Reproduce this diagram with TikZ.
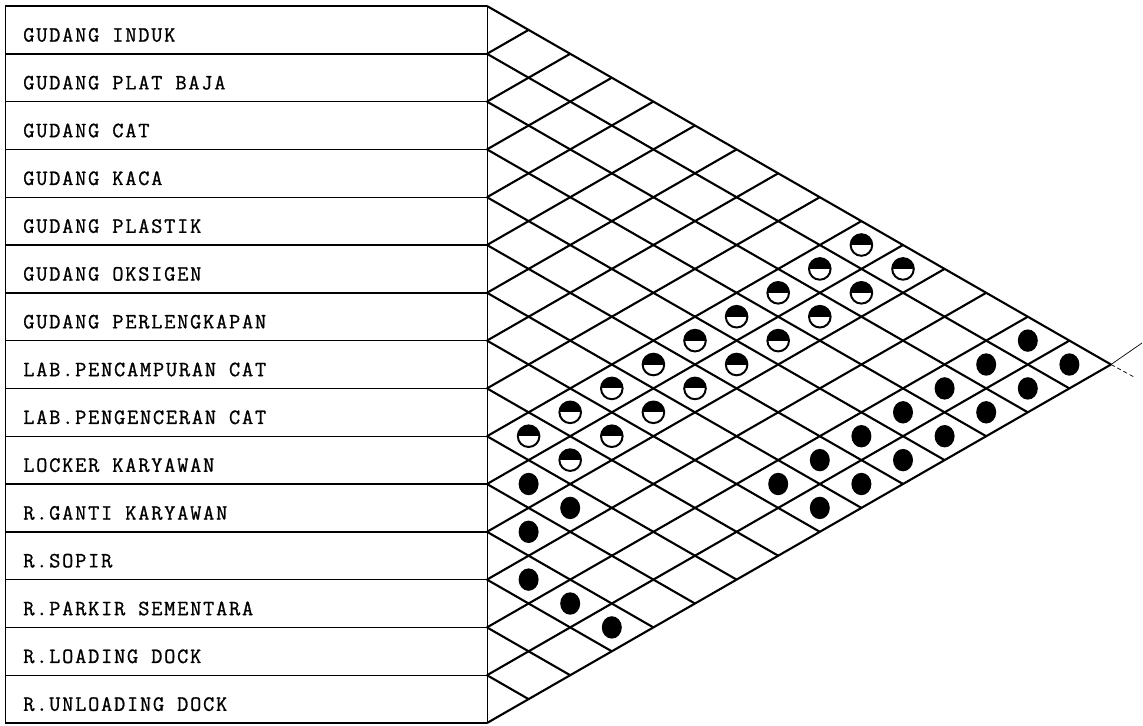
\documentclass[tikz,border=0pt]{standalone}
\usepackage{fontspec}
\setmonofont[LetterSpace=8,FakeBold=1]{Latin Modern Mono}
\usetikzlibrary{calc,shapes.geometric}

\begin{document}
\begin{tikzpicture}[x=0.025cm,y=-0.025cm,
  arclabel/.style={anchor=west,inner sep=0pt,font=\ttfamily\fontsize{15.5pt}{17pt}\selectfont},
  arcrow/.style={line width=1pt},
  arcborder/.style={line width=0.5pt},
  arcgrid/.style={line width=1.5pt},
  arcdot/.style={ellipse,fill=black,inner sep=0pt,minimum width=0.5cm,minimum height=0.56cm},
  arcdothalf/.style={circle,draw,line width=1.4pt,inner sep=0pt,minimum size=0.54cm,
    path picture={\fill (path picture bounding box.west) rectangle (path picture bounding box.north east);}}
]
  \useasboundingbox (0,0) rectangle (1143,725);
  % left table
  \foreach \k in {0,...,15} {
    \coordinate (T\k) at (5,{6+47.8*\k});
    \coordinate (L\k) at (487,{6+47.8*\k});
    \draw[arcrow] (T\k) -- (L\k);
  }
  \draw[arcborder] (T0) -- (T15);
  \draw[arcborder] (L0) -- (L15);
  \foreach \lbl [count=\i] in {GUDANG INDUK,GUDANG PLAT BAJA,GUDANG CAT,GUDANG KACA,
      GUDANG PLASTIK,GUDANG OKSIGEN,GUDANG PERLENGKAPAN,LAB.PENCAMPURAN CAT,
      LAB.PENGENCERAN CAT,LOCKER KARYAWAN,R.GANTI KARYAWAN,R.SOPIR,
      R.PARKIR SEMENTARA,R.LOADING DOCK,R.UNLOADING DOCK}
    \node[arclabel] (row\i) at (23,{6+47.8*(\i-0.5)+5}) {\lbl};
  % diamond grid
  \foreach \k in {0,...,14} {
    \coordinate (D\k) at ({487+(15-\k)*41.6},{6+23.9*(\k+15)});
    \draw[arcgrid] (L\k) -- (D\k);
  }
  \foreach \m in {1,...,15} {
    \coordinate (U\m) at ({487+\m*41.6},{6+23.9*\m});
    \draw[arcgrid] (L\m) -- (U\m);
  }
  % stubs at the apex
  \coordinate (stubup) at (1142,343);
  \coordinate (stubdown) at (1134,377);
  \draw[arcborder] (D0) -- (stubup);
  \draw[arcborder,densely dashed] (D0) -- (stubdown);
  % relationship marks
  \foreach \i/\j in {1/10,1/11,2/10,2/11,3/10,3/11,4/10,4/11,5/10,5/11,
      6/10,6/11,7/10,7/11,8/10,8/11,9/10,9/11}
    \node[arcdothalf] (h\i-\j) at ({487+(\j-\i)*41.6},{6+23.9*(\i+\j-1)}) {};
  \foreach \i/\j in {10/11,10/12,11/12,12/13,12/14,12/15,1/14,1/15,2/14,2/15,
      3/14,3/15,4/14,4/15,5/14,5/15,6/14,6/15,7/14,7/15}
    \node[arcdot] (s\i-\j) at ({487+(\j-\i)*41.6},{6+23.9*(\i+\j-1)}) {};
\end{tikzpicture}
\end{document}
